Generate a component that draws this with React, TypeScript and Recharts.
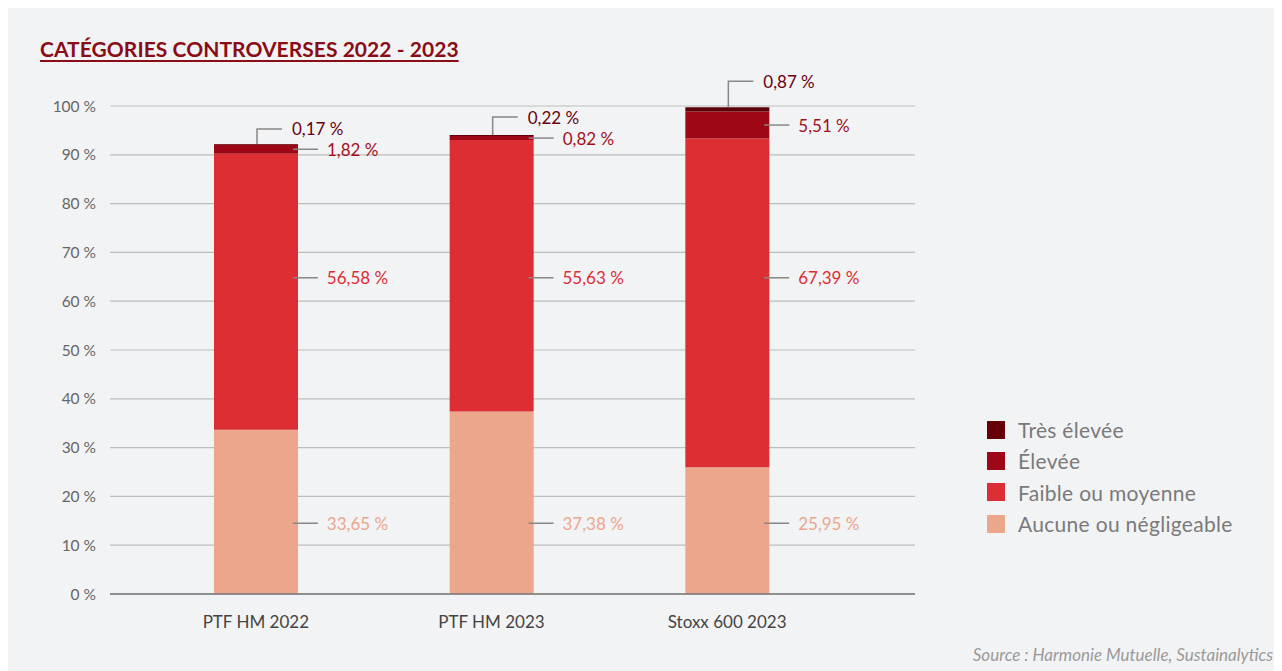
import React from "react";
import {
  BarChart,
  Bar,
  XAxis,
  YAxis,
  CartesianGrid,
  LabelList,
  ReferenceDot,
} from "recharts";

const categories = ["PTF HM 2022", "PTF HM 2023", "Stoxx 600 2023"];
const aucune = [33.65, 37.38, 25.95];
const faible = [56.58, 55.63, 67.39];
const elevee = [1.82, 0.82, 5.51];
const tresElevee = [0.17, 0.22, 0.87];
const yTicks = [0, 10, 20, 30, 40, 50, 60, 70, 80, 90, 100];

const seriesNames = {
  aucune: "Aucune ou négligeable",
  faible: "Faible ou moyenne",
  elevee: "Élevée",
  tres: "Très élevée",
};

// label anchor heights (in axis units) for the large segments
const faibleLabelAt = 64.8;
const aucuneLabelAt = 14.5;
// rise of the top leader line, px
const topRise = [15, 18, 26];

const data = categories.map((name, i) => ({
  name,
  aucune: aucune[i],
  faible: faible[i],
  elevee: elevee[i],
  tres: tresElevee[i],
}));

const COLORS = {
  aucune: "#eca68c",
  faible: "#dc2e33",
  elevee: "#9e0716",
  tres: "#5e0008",
};
const TEXT_COLORS = {
  aucune: "#eca68c",
  faible: "#dc2e33",
  elevee: "#a3101c",
  tres: "#6a0010",
};

const FONT = "Lato, 'Open Sans', sans-serif";
const LEADER = "#888888";

const fmt = (v: number) => v.toFixed(2).replace(".", ",") + " %";

const sideLabel = (cx: number, cy: number, text: string, color: string) => (
  <g>
    <line x1={cx + 37} x2={cx + 62} y1={cy} y2={cy} stroke={LEADER} strokeWidth={1.5} />
    <text
      x={cx + 71}
      y={cy}
      dominantBaseline="central"
      fill={color}
      fontSize={17}
      fontFamily={FONT}
    >
      {text}
    </text>
  </g>
);

const EleveeLabel = (props: any) => {
  const { x, y, width, height, value } = props;
  const cx = Number(x) + Number(width) / 2;
  const cy = Number(y) + Number(height) / 2;
  return sideLabel(cx, cy, fmt(Number(value)), TEXT_COLORS.elevee);
};

const TresLabel = (props: any) => {
  const { x, y, width, value, index } = props;
  const cx = Number(x) + Number(width) / 2 + 1;
  const top = Number(y);
  const ly = top - topRise[index ?? 0];
  return (
    <g>
      <polyline
        points={`${cx},${top} ${cx},${ly} ${cx + 25},${ly}`}
        fill="none"
        stroke={LEADER}
        strokeWidth={1.5}
      />
      <text
        x={cx + 35}
        y={ly}
        dominantBaseline="central"
        fill={TEXT_COLORS.tres}
        fontSize={17}
        fontFamily={FONT}
      >
        {fmt(Number(value))}
      </text>
    </g>
  );
};

const legendItems = [
  { key: "tres", color: "#650009" },
  { key: "elevee", color: "#9e0716" },
  { key: "faible", color: "#dc2e33" },
  { key: "aucune", color: "#eca68c" },
];

export default function App() {
  return (
    <div
      style={{
        position: "relative",
        width: 1274,
        height: 663,
        background: "#f2f3f5",
        fontFamily: FONT,
      }}
    >
      <div
        style={{
          position: "absolute",
          left: 32,
          top: 30,
          fontSize: 21,
          lineHeight: "22px",
          fontWeight: 700,
          color: "#8a0c15",
          textDecoration: "underline",
          textDecorationThickness: "1.5px",
          textUnderlineOffset: "3px",
          whiteSpace: "nowrap",
          letterSpacing: 0.05,
        }}
      >
        CATÉGORIES CONTROVERSES 2022 - 2023
      </div>
      <BarChart
        width={1274}
        height={663}
        data={data}
        margin={{ top: 98, right: 367, bottom: 47, left: 0 }}
      >
        <CartesianGrid vertical={false} stroke="#bdbdbd" strokeWidth={1.2} />
        <XAxis
          dataKey="name"
          height={30}
          padding={{ left: 28, right: 70 }}
          axisLine={{ stroke: "#777", strokeWidth: 1.5 }}
          tickLine={false}
          tickMargin={16}
          tick={{ fill: "#444", fontSize: 17, fontFamily: FONT }}
        />
        <YAxis
          width={102}
          domain={[0, 100]}
          ticks={yTicks}
          interval={0}
          axisLine={false}
          tickLine={false}
          tickMargin={8}
          tickFormatter={(v: number) => `${v} %`}
          tick={{ fill: "#666", fontSize: 15.5, fontFamily: FONT }}
        />
        <Bar dataKey="aucune" name={seriesNames.aucune} stackId="a" fill={COLORS.aucune} barSize={84} isAnimationActive={false} />
        <Bar dataKey="faible" name={seriesNames.faible} stackId="a" fill={COLORS.faible} barSize={84} isAnimationActive={false} />
        <Bar dataKey="elevee" name={seriesNames.elevee} stackId="a" fill={COLORS.elevee} barSize={84} isAnimationActive={false}>
          <LabelList dataKey="elevee" content={<EleveeLabel />} />
        </Bar>
        <Bar dataKey="tres" name={seriesNames.tres} stackId="a" fill={COLORS.tres} barSize={84} isAnimationActive={false}>
          <LabelList dataKey="tres" content={<TresLabel />} />
        </Bar>
        {data.map((d) => (
          <ReferenceDot
            key={"f" + d.name}
            x={d.name}
            y={faibleLabelAt}
            r={0}
            shape={(p: any) => sideLabel(p.cx, p.cy, fmt(d.faible), TEXT_COLORS.faible)}
          />
        ))}
        {data.map((d) => (
          <ReferenceDot
            key={"a" + d.name}
            x={d.name}
            y={aucuneLabelAt}
            r={0}
            shape={(p: any) => sideLabel(p.cx, p.cy, fmt(d.aucune), TEXT_COLORS.aucune)}
          />
        ))}
      </BarChart>
      <div style={{ position: "absolute", left: 979, top: 406 }}>
        {legendItems.map((it) => (
          <div
            key={it.key}
            style={{ display: "flex", alignItems: "center", height: 31.3 }}
          >
            <div style={{ width: 18, height: 18, background: it.color, marginRight: 13 }} />
            <span style={{ color: "#7a7a7a", fontSize: 21, letterSpacing: 0.3 }}>
              {(seriesNames as any)[it.key]}
            </span>
          </div>
        ))}
      </div>
      <div
        style={{
          position: "absolute",
          right: 9,
          top: 637,
          fontSize: 17,
          lineHeight: "20px",
          fontStyle: "italic",
          color: "#9a9a9a",
          whiteSpace: "nowrap",
        }}
      >
        Source : Harmonie Mutuelle, Sustainalytics
      </div>
    </div>
  );
}
